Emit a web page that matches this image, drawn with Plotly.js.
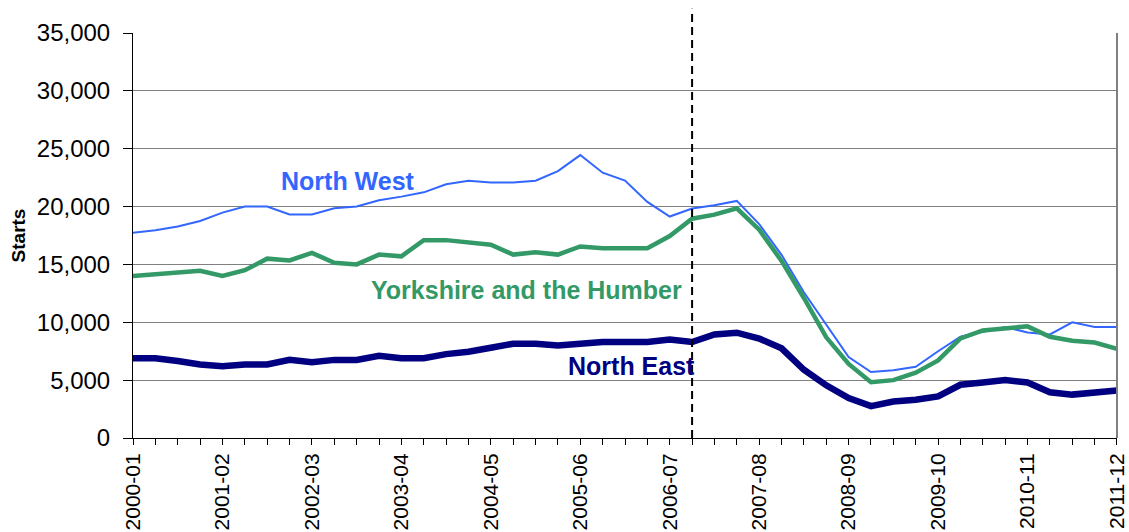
<!DOCTYPE html>
<html>
<head>
<meta charset="utf-8">
<script src="https://cdn.plot.ly/plotly-3.0.1.min.js"></script>
<style>
  body { margin: 0; background: #fff; }
  #chart { width: 1129px; height: 532px; }
</style>
</head>
<body>
<div id="chart"></div>
<script>
// financial years shown on the axis, data is quarterly (Q1 2000-01 .. Q1 2011-12)
var years = ["2000-01", "2001-02", "2002-03", "2003-04", "2004-05", "2005-06",
             "2006-07", "2007-08", "2008-09", "2009-10", "2010-11", "2011-12"];

var northWest = [17730, 17960, 18280, 18760, 19480, 20000, 20000, 19310, 19310, 19860,
                 20000, 20540, 20860, 21230, 21930, 22240, 22070, 22070, 22240, 23070,
                 24450, 22930, 22240, 20400, 19140, 19830, 20120, 20490, 18480, 15830,
                 12600, 9800, 7000, 5700, 5850, 6150, 7500, 8750, 9200, 9600,
                 9120, 8950, 10000, 9600, 9600];

var yorkshire = [14000, 14150, 14300, 14450, 14000, 14500, 15500, 15350, 16000, 15150,
                 15000, 15850, 15700, 17100, 17100, 16900, 16700, 15850, 16050, 15850,
                 16550, 16400, 16400, 16400, 17450, 18950, 19300, 19850, 18000, 15300,
                 12100, 8700, 6400, 4820, 5000, 5650, 6700, 8600, 9300, 9450,
                 9650, 8750, 8400, 8250, 7700];

var northEast = [6900, 6900, 6650, 6350, 6200, 6350, 6350, 6750, 6550, 6750,
                 6750, 7100, 6900, 6900, 7250, 7450, 7800, 8150, 8150, 8000,
                 8150, 8300, 8300, 8300, 8500, 8300, 8950, 9100, 8600, 7750,
                 5900, 4550, 3450, 2750, 3150, 3300, 3600, 4600, 4800, 5000,
                 4800, 3950, 3750, 3950, 4100];

// quarter labels (used for hover), one per point
var quarters = [];
years.forEach(function (y) {
  for (var q = 1; q <= 4; q++) quarters.push(y + " Q" + q);
});
quarters = quarters.slice(0, northWest.length);
var idx = quarters.map(function (d, i) { return i; });
var yearTicks = years.map(function (d, i) { return i * 4; });

var font = "Liberation Sans, Arial, sans-serif";

var traces = [
  { x: idx, y: northWest, text: quarters, name: "North West", type: "scatter", mode: "lines",
    line: { color: "#3366FF", width: 2 } },
  { x: idx, y: yorkshire, text: quarters, name: "Yorkshire and the Humber", type: "scatter", mode: "lines",
    line: { color: "#339966", width: 4.5 } },
  { x: idx, y: northEast, text: quarters, name: "North East", type: "scatter", mode: "lines",
    line: { color: "#000080", width: 6.5 } }
];

var layout = {
  width: 1129, height: 532,
  margin: { l: 133, r: 12, t: 33, b: 94 },
  paper_bgcolor: "#fff", plot_bgcolor: "#fff",
  showlegend: false,
  font: { family: font, color: "#000", size: 22 },
  xaxis: {
    range: [-0.001, 44.001],
    tickmode: "array", tickvals: yearTicks, ticktext: years,
    tickangle: -90,
    ticks: "outside", ticklen: 6, tickcolor: "#000", tickwidth: 1,
    minor: { tickmode: "linear", tick0: 0, dtick: 1, ticks: "outside", ticklen: 6, tickcolor: "#000", showgrid: false },
    showgrid: false, zeroline: false,
    showline: true, linecolor: "#000", linewidth: 1,
    tickfont: { family: font, size: 21, color: "#000" },
    fixedrange: true
  },
  yaxis: {
    range: [0, 35000], dtick: 5000, tickformat: ",",
    ticks: "outside", ticklen: 9, tickcolor: "#000",
    showgrid: true, gridcolor: "#808080", gridwidth: 1,
    zeroline: false,
    showline: true, linecolor: "#000", linewidth: 1,
    tickfont: { family: font, size: 24, color: "#000" },
    ticklabelstandoff: 8,
    title: { text: "Starts", font: { family: font, size: 19, weight: "bold", color: "#000" }, standoff: 6 },
    fixedrange: true
  },
  shapes: [
    // right-hand border of plot area
    { type: "line", xref: "paper", yref: "paper", x0: 1, x1: 1, y0: 0, y1: 1,
      line: { color: "#808080", width: 2 } },
    // dashed marker
    { type: "line", xref: "x", yref: "paper", x0: 25, x1: 25, y0: 0, y1: 1.06,
      line: { color: "#000", width: 2, dash: "8px,5px" } }
  ],
  annotations: [
    { text: "North West", x: 9.6, y: 22200, xref: "x", yref: "y", showarrow: false,
      font: { family: font, size: 25, weight: "bold", color: "#3366FF" } },
    { text: "Yorkshire and the Humber", x: 17.6, y: 12750, xref: "x", yref: "y", showarrow: false,
      font: { family: font, size: 25, weight: "bold", color: "#339966" } },
    { text: "North East", x: 22.3, y: 6200, xref: "x", yref: "y", showarrow: false,
      font: { family: font, size: 25, weight: "bold", color: "#000080" } }
  ]
};

Plotly.newPlot("chart", traces, layout, { displayModeBar: false, staticPlot: true });
</script>
</body>
</html>
